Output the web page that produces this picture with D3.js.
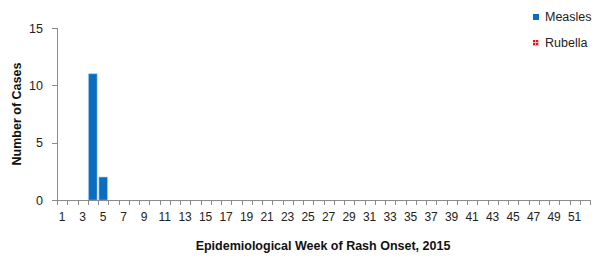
<!DOCTYPE html>
<html>
<head>
<meta charset="utf-8">
<script src="https://cdn.jsdelivr.net/npm/d3@7"></script>
<style>
  body { margin: 0; background: #fff; }
  svg { font-family: "Liberation Sans", Arial, sans-serif; }
</style>
</head>
<body>
<div id="chart"></div>
<script>
// Weeks 1..52 of 2015
const weeks = d3.range(1, 53);
const measles = [0,0,0,11,2,0,0,0,0,0,0,0,0,0,0,0,0,0,0,0,0,0,0,0,0,0,0,0,0,0,0,0,0,0,0,0,0,0,0,0,0,0,0,0,0,0,0,0,0,0,0,0];
const rubella = [0,0,0,0,0,0,0,0,0,0,0,0,0,0,0,0,0,0,0,0,0,0,0,0,0,0,0,0,0,0,0,0,0,0,0,0,0,0,0,0,0,0,0,0,0,0,0,0,0,0,0,0];
const yTicks = [0, 5, 10, 15];
const seriesNames = ["Measles", "Rubella"];

const width = 600, height = 264;
const margin = { top: 28, right: 10, bottom: 64, left: 57 };

const svg = d3.select("#chart").append("svg")
  .attr("width", width)
  .attr("height", height);

// pattern for rubella (red with thin white grid)
const defs = svg.append("defs");
const pat = defs.append("pattern")
  .attr("id", "rub")
  .attr("width", 3).attr("height", 3)
  .attr("patternUnits", "userSpaceOnUse");
pat.append("rect").attr("width", 3).attr("height", 3).attr("fill", "#f6b0b0");
pat.append("rect").attr("width", 2).attr("height", 2).attr("fill", "#e8141c");

const x = d3.scaleBand()
  .domain(weeks)
  .range([margin.left, 590])
  .paddingInner(0.19)
  .paddingOuter(0.095);

const y = d3.scaleLinear()
  .domain([0, 15])
  .range([200, margin.top]);

const table = weeks.map((w, i) => ({ week: w, Measles: measles[i], Rubella: rubella[i] }));
const stack = d3.stack().keys(seriesNames)(table);
const fills = { Measles: "#0a6cc2", Rubella: "url(#rub)" };

svg.append("g").selectAll("g")
  .data(stack)
  .join("g")
  .attr("fill", d => fills[d.key])
  .selectAll("rect")
  .data(d => d.filter(p => p[1] - p[0] > 0))
  .join("rect")
  .attr("x", d => x(d.data.week))
  .attr("y", d => y(d[1]))
  .attr("width", x.bandwidth())
  .attr("height", d => y(d[0]) - y(d[1]))
  .attr("stroke", "#7fb3e3")
  .attr("stroke-width", 0.6);

// y axis
const axisColor = "#8c8c8c";
svg.append("line")
  .attr("x1", margin.left + 0.5).attr("x2", margin.left + 0.5)
  .attr("y1", y(15)).attr("y2", y(0))
  .attr("stroke", axisColor);
svg.append("g").selectAll("line")
  .data(yTicks)
  .join("line")
  .attr("x1", margin.left - 5).attr("x2", margin.left)
  .attr("y1", d => Math.round(y(d)) + 0.5).attr("y2", d => Math.round(y(d)) + 0.5)
  .attr("stroke", axisColor);
svg.append("g").selectAll("text")
  .data(yTicks)
  .join("text")
  .attr("x", 43)
  .attr("y", d => y(d) + 4.5)
  .attr("text-anchor", "end")
  .attr("font-size", 12.5)
  .attr("fill", "#222")
  .text(d => d);

// x axis
svg.append("line")
  .attr("x1", margin.left).attr("x2", 590)
  .attr("y1", 200.5).attr("y2", 200.5)
  .attr("stroke", axisColor);
const bounds = d3.range(0, weeks.length + 1).map(i => margin.left + i * (590 - margin.left) / weeks.length);
svg.append("g").selectAll("line")
  .data(bounds)
  .join("line")
  .attr("x1", d => Math.round(d) + 0.5).attr("x2", d => Math.round(d) + 0.5)
  .attr("y1", 200).attr("y2", 205)
  .attr("stroke", axisColor);
svg.append("g").selectAll("text")
  .data(weeks.filter(w => w % 2 === 1))
  .join("text")
  .attr("x", d => x(d) + x.bandwidth() / 2)
  .attr("y", 221)
  .attr("text-anchor", "middle")
  .attr("font-size", 12)
  .attr("fill", "#222")
  .text(d => d);

// titles
svg.append("text")
  .attr("transform", `translate(21,${(y(15) + y(0)) / 2}) rotate(-90)`)
  .attr("text-anchor", "middle")
  .attr("font-size", 12.5)
  .attr("font-weight", "bold")
  .attr("fill", "#111")
  .text("Number of Cases");
svg.append("text")
  .attr("x", 323)
  .attr("y", 250)
  .attr("text-anchor", "middle")
  .attr("font-size", 12.5)
  .attr("font-weight", "bold")
  .attr("fill", "#111")
  .text("Epidemiological Week of Rash Onset, 2015");

// legend
const legend = svg.append("g").selectAll("g")
  .data(seriesNames)
  .join("g")
  .attr("transform", (d, i) => `translate(533,${14 + i * 26})`);
legend.append("rect")
  .attr("width", 6).attr("height", 6)
  .attr("fill", d => fills[d]);
legend.append("text")
  .attr("x", 12).attr("y", 7)
  .attr("font-size", 12.5)
  .attr("fill", "#222")
  .text(d => d);
</script>
</body>
</html>
